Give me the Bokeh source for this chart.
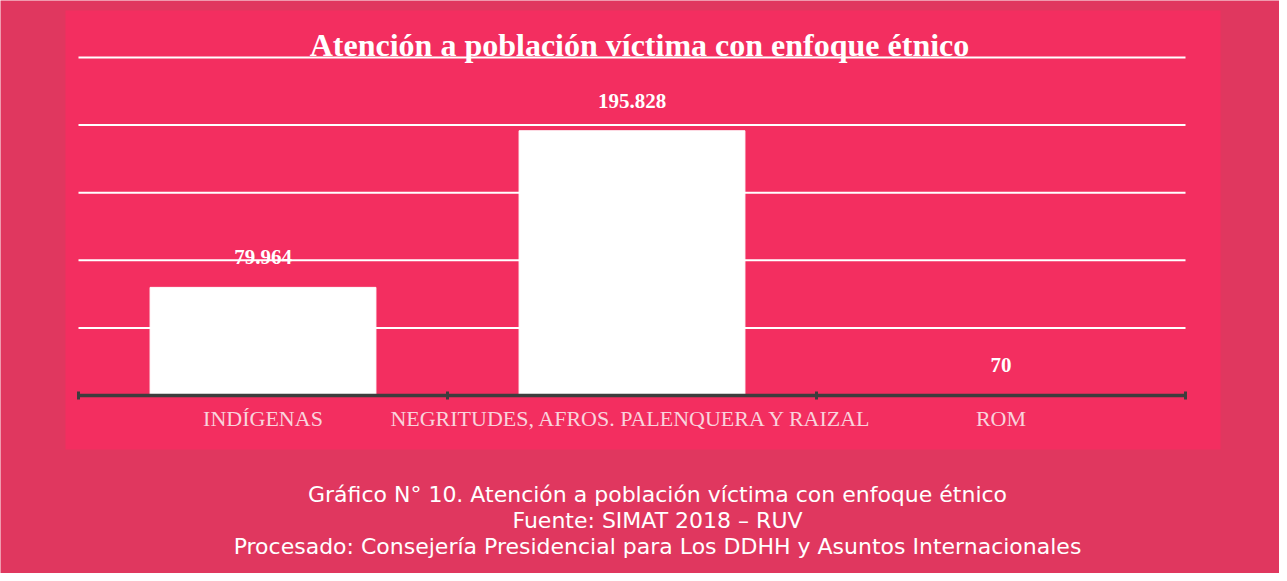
import numpy as np
from bokeh.plotting import figure
from bokeh.models import Range1d, ColumnDataSource
from bokeh.core.properties import value
from bokeh.embed import file_html
from bokeh.resources import INLINE

# ---- data ----
categories = ["INDÍGENAS", "NEGRITUDES, AFROS. PALENQUERA Y RAIZAL", "ROM"]
values = [79964, 195828, 70]
grid_ticks = [50000, 100000, 150000, 200000, 250000]
title_text = "Atención a población víctima con enfoque étnico"
caption_lines = [
    "Gráfico N° 10. Atención a población víctima con enfoque étnico",
    "Fuente: SIMAT 2018 – RUV",
    "Procesado: Consejería Presidencial para Los DDHH y Asuntos Internacionales",
]

# ---- geometry (pixels inside the figure) ----
W, H = 1279, 573
PAN_L, PAN_R, PAN_T, PAN_B = 65, 1220, 10, 449   # inner pink panel
AX_L, AX_R = 78, 1185                            # category axis extent
Y0_PX, YMAX_PX = 395, 57                         # pixel of 0 and of the top tick
n = len(categories)
ymax = grid_ticks[-1]
px_per_x = (AX_R - AX_L) / n
px_per_y = (Y0_PX - YMAX_PX) / ymax

def X(px):
    return (px - AX_L) / px_per_x

def Y(py):
    return (Y0_PX - py) / px_per_y

x_range = Range1d(X(0), X(W))
y_range = Range1d(Y(H), Y(0))

p = figure(width=W, height=H, x_range=x_range, y_range=y_range,
           x_axis_type=None, y_axis_type=None,
           toolbar_location=None, output_backend="svg",
           min_border=0)
p.border_fill_color = "#E0375F"
p.background_fill_color = "#E0375F"
p.outline_line_color = None
p.grid.visible = False

# inner chart panel
p.quad(left=[X(PAN_L)], right=[X(PAN_R)], top=[Y(PAN_T)], bottom=[Y(PAN_B)],
       fill_color="#F32E60", line_color=None)

centers = [i + 0.5 for i in range(n)]

# gridlines
p.segment(x0=[0] * len(grid_ticks), x1=[n] * len(grid_ticks),
          y0=grid_ticks, y1=grid_ticks, line_color="white", line_width=2)

# bars
src = ColumnDataSource(dict(x=centers, top=values, cat=categories,
                            lab=[f"{v:,}".replace(",", ".") for v in values]))
p.vbar(x="x", top="top", bottom=0, width=0.612, source=src,
       fill_color="white", line_color="white", line_width=1)

# axis line and ticks
p.segment(x0=[0], x1=[n], y0=[0], y1=[0], line_color="#3d3d3d", line_width=3.5)
p.scatter(x=list(range(n + 1)), y=[0] * (n + 1), marker="dash", angle=np.pi / 2,
          size=8, line_color="#3d3d3d", line_width=3)

# data labels
p.text(x="x", y="top", text="lab", source=src, text_align="center",
       text_baseline="alphabetic", y_offset=-30,
       text_font=value("Liberation Serif"), text_font_style="bold",
       text_font_size="21px", text_color="white")

# category labels
p.text(x="x", y=0, text="cat", source=src, text_align="center",
       text_baseline="alphabetic", y_offset=23,
       text_font=value("Liberation Serif"), text_font_size="22px",
       text_color="#F9D3DC")

# title
p.text(x=[X(639)], y=[ymax], text=[title_text], text_align="center",
       text_baseline="alphabetic", y_offset=-13,
       text_font=value("Liberation Serif"), text_font_style="bold",
       text_font_size="32px", text_color="white")

# caption
p.text(x=[X(657)] * len(caption_lines),
       y=[Y(502.7 + 26 * i) for i in range(len(caption_lines))],
       text=caption_lines, text_align="center", text_baseline="alphabetic",
       y_offset=-9, text_font=value("DejaVu Sans"), text_font_size="22px",
       text_color="white")

open("out.html", "w").write(file_html(p, INLINE))
